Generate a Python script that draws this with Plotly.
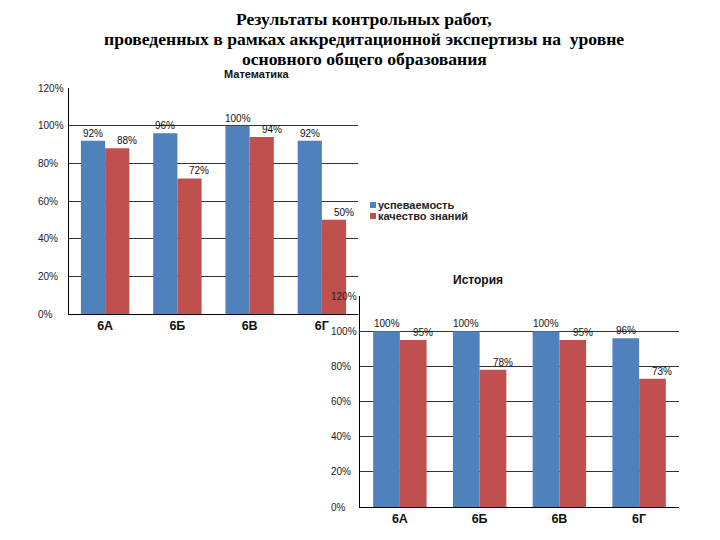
import plotly.graph_objects as go

W, H = 720, 540
OFF = 8  # the page body margin shifts the figure by this many pixels

classes = ["6А", "6Б", "6В", "6Г"]
series_names = ["успеваемость", "качество знаний"]
math_progress = [92, 96, 100, 92]
math_quality = [88, 72, 94, 50]
hist_progress = [100, 100, 100, 96]
hist_quality = [95, 78, 95, 73]
y_ticks = [0, 20, 40, 60, 80, 100, 120]
title_lines = [
    "Результаты контрольных работ,",
    "проведенных в рамках аккредитационной экспертизы на  уровне",
    "основного общего образования",
]

BLUE = "#4F81BD"
RED = "#C0504D"
SANS = "Liberation Sans, Arial, sans-serif"
SERIF = "Liberation Serif, Times New Roman, serif"

# plot areas in screen pixels: (left, right, top, bottom)
MATH_BOX = (69, 358, 88, 314)
HIST_BOX = (360, 679, 296, 507)
BARGAP = 0.33


def px(x):
    return (x - OFF) / W


def py(y):
    return 1 - (y - OFF) / H


def dom(box):
    l, r, t, b = box
    return [px(l), px(r)], [py(b), py(t)]


fig = go.Figure()

for xa, ya, progress, quality in [
    ("x", "y", math_progress, math_quality),
    ("x2", "y2", hist_progress, hist_quality),
]:
    fig.add_trace(go.Bar(x=classes, y=progress, name=series_names[0],
                         marker=dict(color=BLUE, line=dict(width=0)),
                         xaxis=xa, yaxis=ya, showlegend=False))
    fig.add_trace(go.Bar(x=classes, y=quality, name=series_names[1],
                         marker=dict(color=RED, line=dict(width=0)),
                         xaxis=xa, yaxis=ya, showlegend=False))

annotations = []


def value_labels(box, xa, ya, progress, quality, red_extra):
    band = (box[1] - box[0]) / len(classes)
    half = band * (1 - BARGAP) / 4
    for c, p, q in zip(classes, progress, quality):
        annotations.append(dict(x=c, y=p, xref=xa, yref=ya, text=f"{p}%",
                                xshift=-half, yanchor="bottom", showarrow=False,
                                font=dict(size=10, color="#111", family=SANS)))
        annotations.append(dict(x=c, y=q, xref=xa, yref=ya, text=f"{q}%",
                                xshift=half + red_extra, yanchor="bottom",
                                showarrow=False,
                                font=dict(size=10, color="#111", family=SANS)))


def tick_labels(left_px, ya, size):
    for v in y_ticks:
        annotations.append(dict(x=px(left_px), y=v, xref="paper", yref=ya,
                                text=f"{v}%", xanchor="left", showarrow=False,
                                font=dict(size=size, color="#222", family=SANS)))


value_labels(MATH_BOX, "x", "y", math_progress, math_quality, 10)
value_labels(HIST_BOX, "x2", "y2", hist_progress, hist_quality, 10)
tick_labels(36, "y", 10)
tick_labels(329, "y2", 10)

for i, line in enumerate(title_lines):
    annotations.append(dict(
        x=px(364), y=py(19.5 + i * 19.5), xref="paper", yref="paper",
        xanchor="center", yanchor="middle", showarrow=False, borderpad=0,
        text=f"<b>{line}</b>",
        font=dict(size=17.6, color="black", family=SERIF)))
annotations.append(dict(x=px(257), y=py(74), xref="paper", yref="paper",
                        yanchor="middle", borderpad=0,
                        text="<b>Математика</b>", showarrow=False,
                        font=dict(size=11, color="#111", family=SANS)))
annotations.append(dict(x=px(505), y=py(280), xref="paper", yref="paper",
                        yanchor="middle",
                        text="<b>История</b>", showarrow=False,
                        font=dict(size=12, color="#111", family=SANS)))

# hand-made compact legend
shapes = []
for i, (name, col) in enumerate(zip(series_names, [BLUE, RED])):
    yc = 205 + i * 11
    shapes.append(dict(type="rect", xref="paper", yref="paper",
                       x0=px(370), x1=px(376), y0=py(yc + 3),
                       y1=py(yc - 3), fillcolor=col, line=dict(width=0)))
    annotations.append(dict(x=px(376), y=py(yc), xref="paper", yref="paper",
                            text=f"<b>{name}</b>", xanchor="left",
                            yanchor="middle", showarrow=False,
                            font=dict(size=11, color="#222", family=SANS)))

mx, my = dom(MATH_BOX)
hx, hy = dom(HIST_BOX)
xcommon = dict(showgrid=False, zeroline=False, showline=True, linecolor="black",
               linewidth=1, ticks="", fixedrange=True,
               tickfont=dict(size=12.5, color="#111", family=SANS, weight="bold"))
ycommon = dict(range=[0, 120], showgrid=True, gridcolor="#333", gridwidth=1,
               zeroline=False, showline=True, linecolor="black", linewidth=1,
               showticklabels=False, ticks="")

fig.update_layout(
    width=W, height=H,
    margin=dict(l=0, r=0, t=0, b=0),
    paper_bgcolor="white", plot_bgcolor="rgba(0,0,0,0)",
    barmode="group", bargap=BARGAP, bargroupgap=0,
    showlegend=False,
    xaxis=dict(domain=mx, anchor="y", **xcommon),
    yaxis=dict(domain=my, anchor="x", tickvals=y_ticks[1:-1], **ycommon),
    xaxis2=dict(domain=hx, anchor="y2", **xcommon),
    yaxis2=dict(domain=hy, anchor="x2", tickvals=y_ticks[1:], **ycommon),
    annotations=annotations,
    shapes=shapes,
)

fig.write_html("out.html")
